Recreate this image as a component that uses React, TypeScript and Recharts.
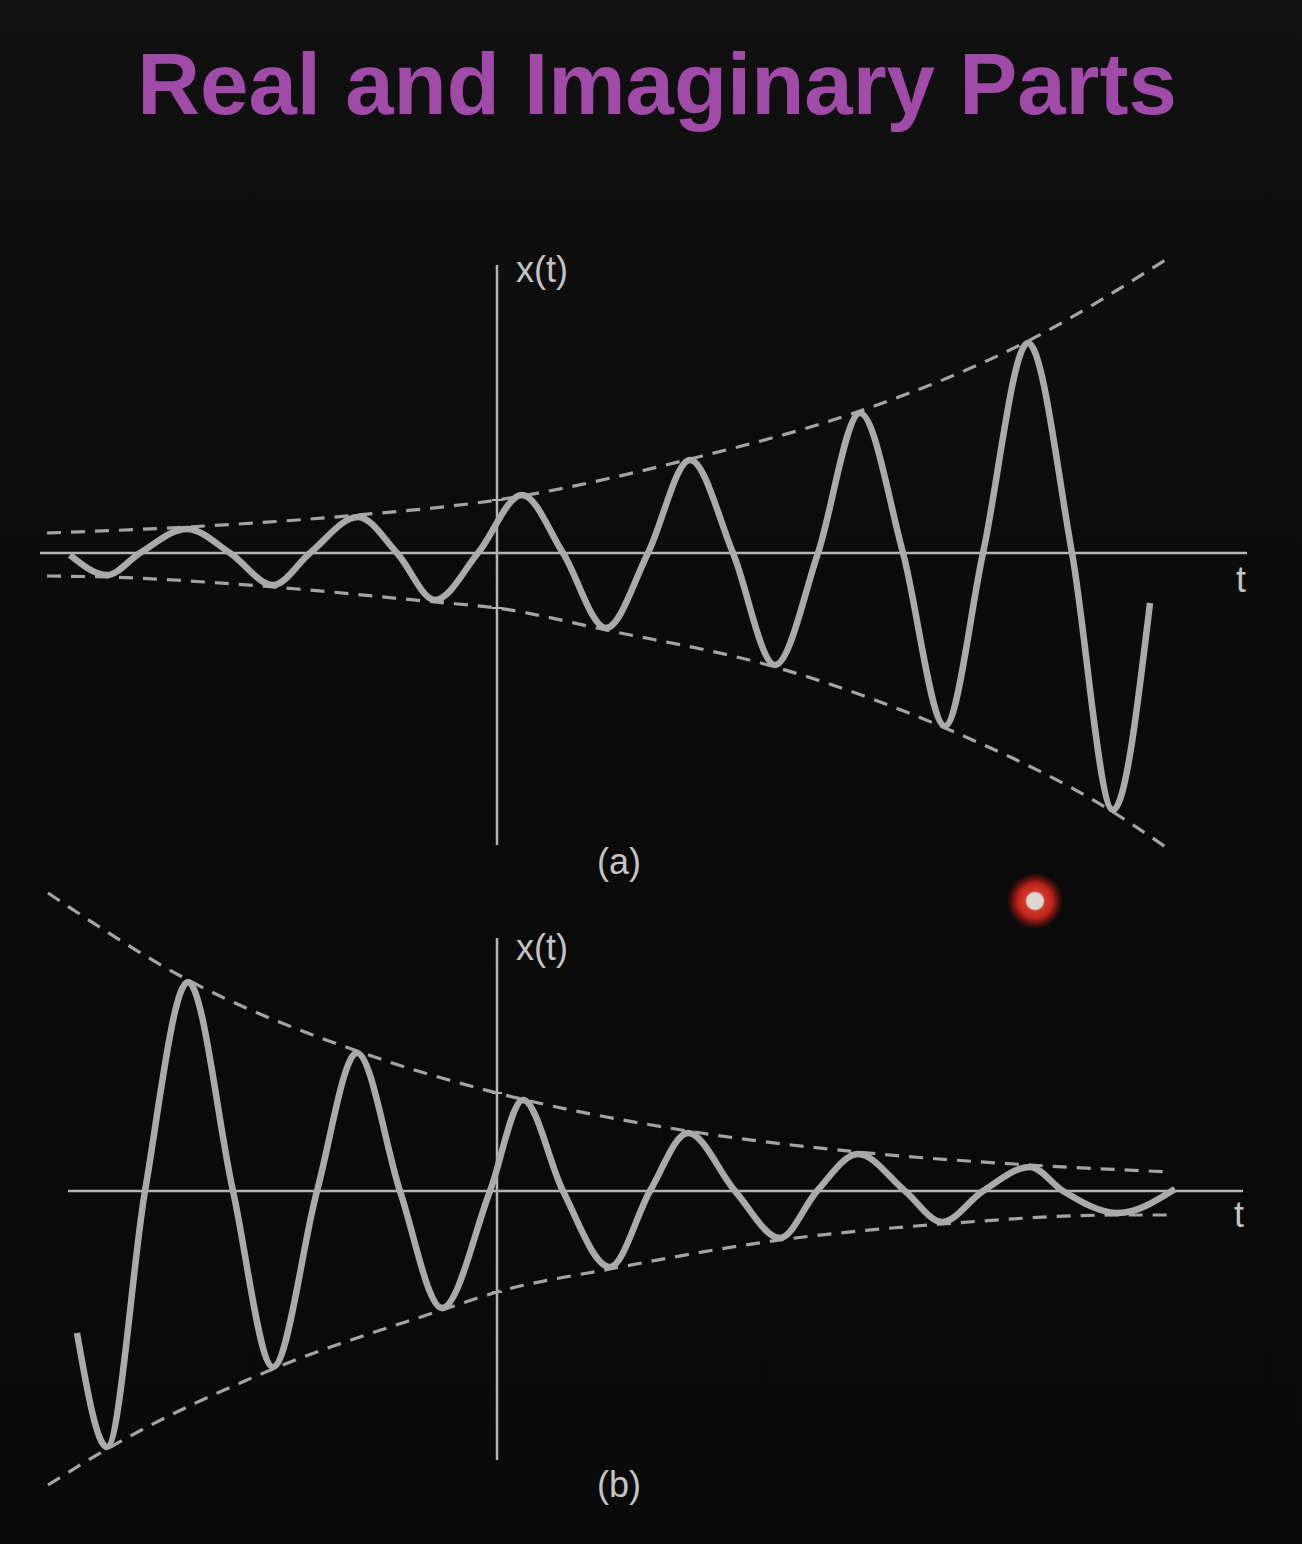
import { LineChart, Line, XAxis, YAxis, ReferenceLine } from 'recharts';

// t axis: time units, x axis: amplitude units
const topWaveT = [-4.27, -3.9, -3.57, -3.1, -2.67, -2.24, -1.87, -1.39, -1.0, -0.62, -0.19, 0.25, 0.66, 1.09, 1.51, 1.93, 2.36, 2.78, 3.21, 3.63, 4.06, 4.48, 4.86, 5.31, 5.75, 6.16, 6.53];
const topWaveX = [-0.02, -0.22, 0, 0.24, 0, -0.32, 0, 0.36, 0, -0.47, 0, 0.58, 0, -0.75, 0, 0.93, 0, -1.12, 0, 1.4, 0, -1.73, 0, 2.1, 0, -2.57, -0.5];

const topUpperT = [-4.5, -3.1, -1.39, 0, 1.93, 3.63, 5.31, 6.73];
const topUpperX = [0.2, 0.26, 0.38, 0.53, 0.94, 1.42, 2.12, 2.96];
const topLowerT = [-4.5, -3.9, -2.24, -0.62, 0, 1.09, 2.78, 4.48, 6.16, 6.73];
const topLowerX = [-0.23, -0.24, -0.34, -0.49, -0.55, -0.77, -1.14, -1.75, -2.59, -2.97];

const botWaveT = [-4.2, -3.9, -3.52, -3.09, -2.64, -2.24, -1.8, -1.4, -0.97, -0.55, -0.07, 0.26, 0.66, 1.13, 1.53, 1.91, 2.38, 2.83, 3.2, 3.61, 4.08, 4.45, 4.86, 5.33, 5.66, 6.21, 6.78];
const botWaveX = [-1.42, -2.56, 0, 2.09, 0, -1.76, 0, 1.38, 0, -1.17, 0, 0.91, 0, -0.76, 0, 0.58, 0, -0.47, 0, 0.37, 0, -0.31, 0, 0.24, 0, -0.22, 0.02];

const botUpperT = [-4.49, -3.09, -1.4, 0, 1.91, 3.61, 5.33, 6.75];
const botUpperX = [2.98, 2.11, 1.4, 0.98, 0.6, 0.39, 0.26, 0.19];
const botLowerT = [-4.49, -3.9, -2.24, -0.55, 0, 1.13, 2.83, 4.45, 6.21, 6.75];
const botLowerX = [-2.94, -2.58, -1.78, -1.19, -1.01, -0.78, -0.49, -0.33, -0.24, -0.24];

const zip = (ts: number[], xs: number[]) => ts.map((t, i) => ({ t, x: xs[i] }));

const CURVE = '#aaaaaa';
const AXIS = '#b4b4b4';
const DASH = '#a4a4a4';
const FONT = '"Liberation Sans", Arial, Helvetica, sans-serif';

interface PanelProps {
  top: number;
  height: number;
  yMax: number;
  wave: { t: number; x: number }[];
  upper: { t: number; x: number }[];
  lower: { t: number; x: number }[];
  hAxis: [number, number];
  vAxis: [number, number];
  ticks: number[];
}

function Panel({ top, height, yMax, wave, upper, lower, hAxis, vAxis, ticks }: PanelProps) {
  return (
    <div style={{ position: 'absolute', left: -3, top }}>
      <LineChart width={1300} height={height} margin={{ top: 0, right: 0, bottom: 0, left: 0 }}>
        <XAxis type="number" dataKey="t" domain={[-5, 8]} hide allowDataOverflow />
        <YAxis type="number" dataKey="x" domain={[-yMax, yMax]} hide allowDataOverflow />
        <ReferenceLine segment={[{ x: hAxis[0], y: 0 }, { x: hAxis[1], y: 0 }]} stroke={AXIS} strokeWidth={2.5} />
        <ReferenceLine segment={[{ x: 0, y: vAxis[0] }, { x: 0, y: vAxis[1] }]} stroke={AXIS} strokeWidth={2.5} />
        {ticks.map((v, i) => (
          <ReferenceLine key={i} segment={[{ x: -0.05, y: v }, { x: 0.05, y: v }]} stroke={AXIS} strokeWidth={2} />
        ))}
        <Line data={upper} dataKey="x" type="monotone" stroke={DASH} strokeWidth={3.2} strokeDasharray="14 10" dot={false} isAnimationActive={false} />
        <Line data={lower} dataKey="x" type="monotone" stroke={DASH} strokeWidth={3.2} strokeDasharray="14 10" dot={false} isAnimationActive={false} />
        <Line data={wave} dataKey="x" type="monotone" stroke={CURVE} strokeWidth={6.5} dot={false} isAnimationActive={false} />
      </LineChart>
    </div>
  );
}

const label = (text: string, left: number, top: number) => (
  <div style={{ position: 'absolute', left, top, fontFamily: FONT, fontSize: 36, lineHeight: 1, color: '#c4c4c4' }}>{text}</div>
);

export default function App() {
  return (
    <div style={{ position: 'absolute', left: 0, top: 0, width: 1302, height: 1544, overflow: 'hidden', background: 'linear-gradient(#111111, #0b0b0b 40%, #0a0a0a)' }}>
      <div style={{ position: 'absolute', left: 0, width: 1302, top: 40, textAlign: 'center', fontFamily: FONT, fontWeight: 700, fontSize: 87, lineHeight: 1, color: '#a04ba8', paddingLeft: 12, boxSizing: 'border-box' }}>
        Real and Imaginary Parts
      </div>

      <Panel
        top={233}
        height={640}
        yMax={3.2}
        wave={zip(topWaveT, topWaveX)}
        upper={zip(topUpperT, topUpperX)}
        lower={zip(topLowerT, topLowerX)}
        hAxis={[-4.57, 7.5]}
        vAxis={[2.88, -2.92]}
        ticks={[0.53, -0.55]}
      />
      <Panel
        top={861}
        height={660}
        yMax={3.3}
        wave={zip(botWaveT, botWaveX)}
        upper={zip(botUpperT, botUpperX)}
        lower={zip(botLowerT, botLowerX)}
        hAxis={[-4.29, 7.46]}
        vAxis={[2.53, -2.69]}
        ticks={[0.98, -1.01]}
      />

      {label('x(t)', 516, 252)}
      {label('t', 1236, 562)}
      {label('(a)', 597, 844)}
      {label('x(t)', 516, 930)}
      {label('t', 1234, 1197)}
      {label('(b)', 597, 1467)}

      <div
        style={{
          position: 'absolute',
          left: 1035 - 30,
          top: 901 - 30,
          width: 60,
          height: 60,
          borderRadius: '50%',
          background: 'radial-gradient(circle, #dcd6d4 0 8px, #cf3a2c 10px, #c0241a 17px, rgba(170,25,18,0.6) 22px, rgba(0,0,0,0) 28px)',
        }}
      />
    </div>
  );
}
